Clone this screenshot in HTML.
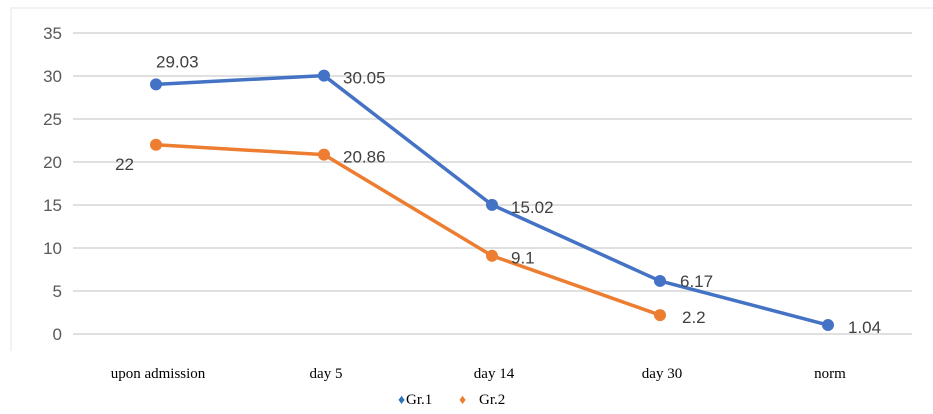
<!DOCTYPE html>
<html><head><meta charset="utf-8"><style>
body{margin:0;background:#fff;width:933px;height:414px;overflow:hidden}
svg{display:block}
</style></head><body>
<svg width="933" height="414">
<rect x="11" y="8" width="930" height="400" fill="none" stroke="#e4e4e4"/>
<rect x="0" y="351" width="933" height="63" fill="#fff"/>
<g id="grid"></g><g id="ylab"></g><g id="xlab"></g><g id="series"></g>
<g>
<text x="398" y="404" font-family="Liberation Serif, serif" font-size="14" fill="#2e75b6">♦</text>
<text x="406" y="404" font-family="Liberation Serif, serif" font-size="15" fill="#000">Gr.1</text>
<text x="459" y="404" font-family="Liberation Serif, serif" font-size="14" fill="#ed7d31">♦</text>
<text x="479" y="404" font-family="Liberation Serif, serif" font-size="15" fill="#000">Gr.2</text>
</g>
</svg>
<script>
const categories=["upon admission","day 5","day 14","day 30","norm"];
const gr1=[29.03,30.05,15.02,6.17,1.04];
const gr2=[22,20.86,9.1,2.2];
const yTicks=[0,5,10,15,20,25,30,35];
const NS="http://www.w3.org/2000/svg";
const x=i=>156+i*168;
const y=v=>334-v*8.6;
function mk(tag,attrs,parent,txt){const e=document.createElementNS(NS,tag);for(const k in attrs)e.setAttribute(k,attrs[k]);if(txt!==undefined)e.textContent=txt;parent.appendChild(e);return e;}
const grid=document.getElementById('grid'),ylab=document.getElementById('ylab'),xlab=document.getElementById('xlab'),ser=document.getElementById('series');
yTicks.forEach(t=>{
 const l=mk('line',{x1:73,x2:912,y1:y(t),y2:y(t),stroke:'#e0e0e0','stroke-width':2},grid);
 
 
 const tx=mk('text',{x:62,y:y(t)+6,'text-anchor':'end','font-family':'Liberation Sans, sans-serif','font-size':17,fill:'#595959'},ylab,t);
 
 
});
categories.forEach((c,i)=>{
 const tx=mk('text',{x:x(i)+2,y:378,'text-anchor':'middle','font-family':'Liberation Serif, serif','font-size':15,fill:'#000'},xlab,c);
 
 
});
function draw(vals,color,name,offs){
 const pts=vals.map((v,i)=>x(i)+','+y(v)).join(' ');
 const pl=mk('polyline',{points:pts,fill:'none',stroke:color,'stroke-width':3.5,'stroke-linejoin':'round'},ser);
 
 
 vals.forEach((v,i)=>{
  const c=mk('circle',{cx:x(i),cy:y(v),r:6,fill:color},ser);
  
  
  const o=offs[i];
  const t=mk('text',{x:x(i)+o[0],y:y(v)+o[1],'font-family':'Liberation Sans, sans-serif','font-size':17,fill:'#404040','text-anchor':o[2]||'start'},ser,String(v));
  
  
 });
}
draw(gr1,'#4472c4','gr1',[[0,-17],[19,8],[19,8],[20,6],[20,8]]);
draw(gr2,'#ed7d31','gr2',[[-22,25,'end'],[19,8],[19,8],[22,8]]);
</script>
</body></html>
